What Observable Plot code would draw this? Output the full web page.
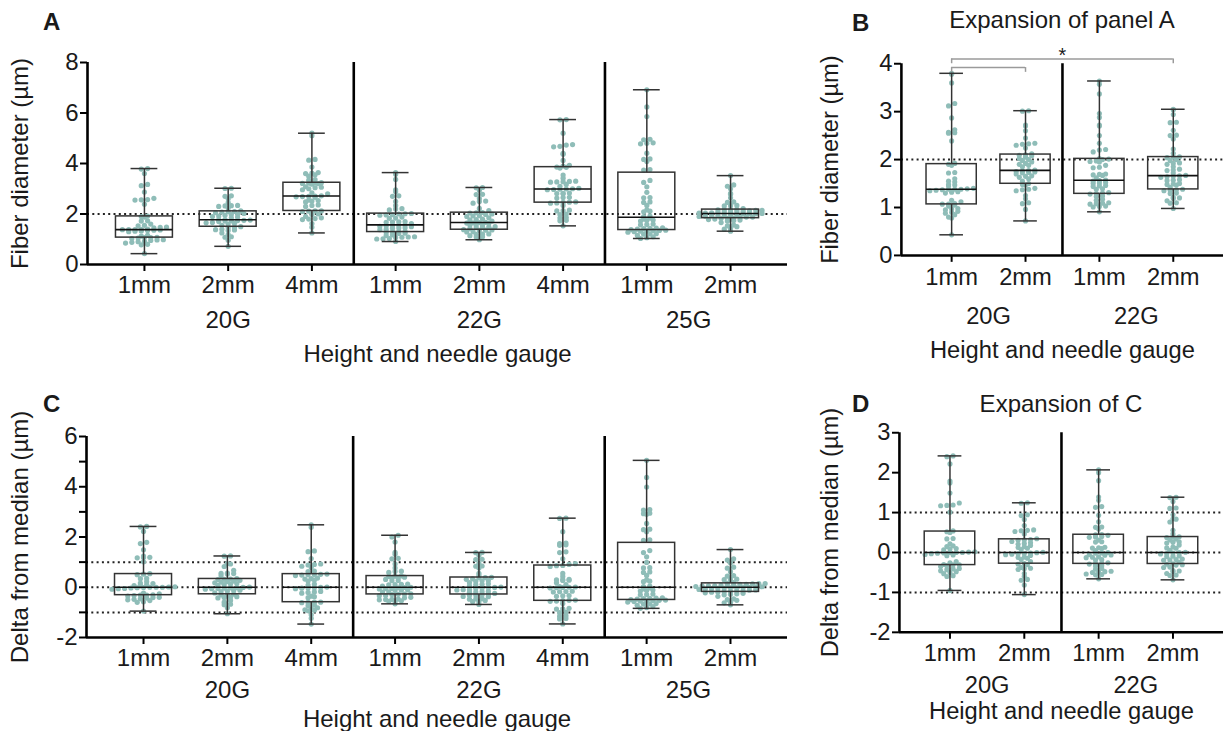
<!DOCTYPE html>
<html><head><meta charset="utf-8">
<script src="https://cdn.jsdelivr.net/npm/d3@7"></script>
<script src="https://cdn.jsdelivr.net/npm/@observablehq/plot@0.6"></script>
<style>
body{margin:0;background:#fff;}
#wrap{position:relative;width:1225px;height:731px;overflow:hidden;background:#fff;font-family:"Liberation Sans",Arial,sans-serif;color:#1a1a1a;}
.panel{position:absolute;}
.lbl{position:absolute;line-height:1;white-space:nowrap;}
</style></head><body><div id="wrap"></div>
<script>
// ---------- data (fiber diameter, µm) ----------
const gauges  = ["20G","20G","20G","22G","22G","22G","25G","25G"];
const heights = ["1mm","2mm","4mm","1mm","2mm","4mm","1mm","2mm"];
const expandedGroups = ["20G 1mm","20G 2mm","22G 1mm","22G 2mm"];

const g20_1mm = [3.80,3.78,3.60,3.17,3.12,2.87,2.62,2.57,2.56,2.55,2.39,1.92,1.90,1.88,1.73,1.72,1.60,1.55,1.53,1.48,1.47,1.45,1.40,1.39,1.38,1.38,1.37,1.38,1.36,1.35,1.33,1.32,1.30,1.15,1.12,1.08,1.07,1.05,1.03,1.07,0.98,0.97,0.95,0.92,0.90,0.88,0.85,0.80,0.78,0.43];
const g20_2mm = [3.02,3.01,2.72,2.70,2.60,2.45,2.34,2.33,2.32,2.30,2.24,2.12,2.10,2.09,2.08,2.05,2.02,2.00,1.98,1.95,1.92,1.90,1.88,1.85,1.74,1.73,1.78,1.77,1.76,1.75,1.72,1.70,1.66,1.65,1.63,1.60,1.55,1.50,1.48,1.47,1.40,1.38,1.37,1.35,1.25,1.18,1.10,1.08,0.96,0.72];
const g20_4mm = [5.20,5.10,4.16,4.13,3.86,3.64,3.62,3.60,3.55,3.50,3.36,3.34,3.24,3.23,3.22,3.21,3.20,3.18,3.08,3.06,3.04,3.00,2.96,2.69,2.68,2.84,2.80,2.72,2.71,2.70,2.66,2.55,2.53,2.51,2.48,2.36,2.34,2.30,2.12,2.11,2.12,2.10,2.00,1.98,1.90,1.85,1.82,1.80,1.78,1.62,1.48,1.25];
const g22_1mm = [3.64,3.57,3.37,2.96,2.88,2.72,2.70,2.50,2.34,2.21,2.20,2.16,2.02,2.01,2.00,1.97,1.96,1.95,1.88,1.84,1.83,1.70,1.69,1.68,1.67,1.62,1.57,1.56,1.55,1.52,1.51,1.50,1.46,1.45,1.44,1.39,1.38,1.31,1.30,1.29,1.28,1.24,1.23,1.17,1.15,1.10,1.09,1.08,1.07,1.03,1.02,1.01,0.91];
const g22_2mm = [3.05,3.04,2.94,2.78,2.77,2.61,2.51,2.50,2.43,2.22,2.13,2.06,2.05,2.04,2.00,1.98,1.93,1.92,1.90,1.85,1.80,1.78,1.77,1.72,1.67,1.66,1.65,1.64,1.63,1.58,1.57,1.56,1.50,1.49,1.48,1.47,1.42,1.38,1.37,1.36,1.35,1.30,1.29,1.21,1.20,1.19,1.14,1.10,1.09,0.98];
const g22_4mm = [5.74,5.73,5.20,4.75,4.73,4.68,4.66,4.40,4.37,4.12,3.93,3.90,3.86,3.85,3.82,3.54,3.42,3.30,3.29,3.28,3.27,3.26,3.17,3.10,3.02,3.00,2.99,2.98,2.97,2.96,2.83,2.82,2.81,2.80,2.66,2.65,2.63,2.48,2.47,2.46,2.44,2.43,2.34,2.15,2.13,2.12,2.00,1.98,1.86,1.84,1.75,1.73,1.53];
const g25_1mm = [6.92,6.24,5.86,4.96,4.94,4.82,4.80,4.78,4.41,4.18,4.16,4.08,3.76,3.74,3.33,3.25,3.08,2.86,2.65,2.64,2.48,2.46,2.34,2.16,2.11,2.09,1.92,1.90,1.84,1.80,1.76,1.74,1.72,1.60,1.58,1.57,1.45,1.44,1.43,1.42,1.40,1.38,1.36,1.35,1.34,1.33,1.32,1.30,1.28,1.22,1.21,1.20,1.15,1.10,1.06,1.03];
const g25_2mm = [3.52,3.15,3.10,3.00,2.82,2.78,2.64,2.48,2.46,2.34,2.33,2.32,2.21,2.18,2.17,2.17,2.16,2.14,2.14,2.12,2.11,2.10,2.08,2.08,2.07,2.05,2.04,2.04,2.02,2.01,2.00,2.00,1.98,1.97,1.96,1.94,1.93,1.91,1.90,1.88,1.88,1.86,1.84,1.83,1.82,1.80,1.78,1.76,1.74,1.72,1.66,1.56,1.53,1.50,1.42,1.40,1.32];
const fiberSeries = [g20_1mm,g20_2mm,g20_4mm,g22_1mm,g22_2mm,g22_4mm,g25_1mm,g25_2mm];

// significance brackets in panel B
const comparisons = [
  {from:"20G 1mm", to:"20G 2mm", y:3.92, label:""},
  {from:"20G 1mm", to:"22G 2mm", y:4.10, label:"*"}
];

// ---------- helpers ----------
function q6(s, p){ // Prism-style quantile ((n+1)p)
  const n = s.length, h = (n + 1) * p;
  if (h <= 1) return s[0];
  if (h >= n) return s[n-1];
  const lo = Math.floor(h);
  return s[lo-1] + (h - lo) * (s[lo] - s[lo-1]);
}
const median = v => q6(v.slice().sort(d3.ascending), 0.5);

const groupsA = fiberSeries.map((values, k) => ({gauge: gauges[k], height: heights[k], key: gauges[k] + " " + heights[k], values}));
const groupsC = groupsA.map(g => { const m = median(g.values); return {...g, values: g.values.map(v => +(v - m).toFixed(4))}; });
const pick = gs => expandedGroups.map(k => gs.find(g => g.key === k));

function swarm(options, sp = 6.3, rowH = 3.3){
  return Plot.initializer(options, (data, facets, channels, scales) => {
    const X = channels.x.value, Y = channels.y.value;
    const PX = new Float64Array(X.length);
    for (const index of facets){
      const rows = d3.group(Array.from(index), i => X[i] + "|" + Math.round(scales.y(Y[i]) / rowH));
      for (const row of rows.values()){
        row.sort((a, b) => Y[a] - Y[b]);
        row.forEach((i, j) => { PX[i] = scales.x(X[i]) + (j - (row.length - 1) / 2) * sp; });
      }
    }
    return {data, facets, channels: {x: {value: PX}}};
  });
}

const INK = "#1a1a1a", DOT = "#8fbdb8";
const T = {fontSize: 24, fill: INK, textAnchor: "middle", lineAnchor: "middle"};
function panel(cfg){
  const {groups, yDomain, yTicks, minorTicks = [], refLines, ylabel, xlabel = "Height and needle gauge",
         width, height, mt, mb, ml, mr, tickPad, gaugeDy, xlabelDy, ylabelDx, extra = () => []} = cfg;
  const n = groups.length, pad = 0.68, bh = 0.34, ch = 0.16;
  const idx = new Map(groups.map((g, i) => [g.key, i]));
  const stats = groups.map((g, i) => {
    const s = g.values.slice().sort(d3.ascending);
    return {i, min: s[0], q1: q6(s, .25), med: q6(s, .5), q3: q6(s, .75), max: s[s.length-1]};
  });
  const pts = groups.flatMap((g, i) => g.values.map(v => ({i, v})));
  const gaugeRows = Array.from(d3.group(groups.map((g, i) => ({gauge: g.gauge, i})), d => d.gauge),
    ([gauge, m]) => ({gauge, x: d3.mean(m, d => d.i), first: m[0].i}));
  const seps = gaugeRows.slice(1).map(g => g.first - 0.5);
  const line = {stroke: "#333", strokeWidth: 1.5};
  return Plot.plot({
    width, height, marginTop: mt, marginBottom: mb, marginLeft: ml, marginRight: mr,
    x: {domain: [-pad, n - 1 + pad]},
    y: {domain: yDomain},
    style: {fontFamily: '"Liberation Sans", Arial, sans-serif', fontSize: "24px", color: INK, background: "transparent", overflow: "visible"},
    marks: [
      Plot.ruleY(refLines, {stroke: "#222", strokeWidth: 2, strokeDasharray: "2,3.3"}),
      Plot.dot(pts, swarm({x: "i", y: "v", r: 2.6, fill: DOT, stroke: "none"})),
      Plot.ruleX(stats, {x: "i", y1: "min", y2: "q1", ...line}),
      Plot.ruleX(stats, {x: "i", y1: "q3", y2: "max", ...line}),
      Plot.rect(stats, {x1: d => d.i - bh, x2: d => d.i + bh, y1: "q1", y2: "q3", fill: "none", ...line}),
      Plot.ruleY(stats, {x1: d => d.i - bh, x2: d => d.i + bh, y: "med", stroke: "#111", strokeWidth: 1.6}),
      Plot.ruleY(stats, {x1: d => d.i - ch, x2: d => d.i + ch, y: "max", ...line}),
      Plot.ruleY(stats, {x1: d => d.i - ch, x2: d => d.i + ch, y: "min", ...line}),
      ...extra(idx),
      Plot.ruleX(seps, {stroke: "#000", strokeWidth: 2.6}),
      Plot.ruleX([-pad], {stroke: "#000", strokeWidth: 2.6}),
      Plot.ruleY([yDomain[0]], {stroke: "#000", strokeWidth: 2.6}),
      Plot.axisY({ticks: yTicks, tickFormat: d => String(d), tickSize: 7, tickPadding: 2, fontSize: 24, strokeWidth: 2, stroke: "#000", fill: INK, label: null}),
      ...(minorTicks.length ? [Plot.axisY({ticks: minorTicks, tickFormat: () => "", tickSize: 7, strokeWidth: 2, stroke: "#000", label: null})] : []),
      Plot.axisX({ticks: d3.range(n), tickFormat: i => groups[i].height, tickSize: 7, tickPadding: tickPad, fontSize: 24, strokeWidth: 2, stroke: "#000", fill: INK, label: null}),
      Plot.text(gaugeRows, {x: "x", text: "gauge", frameAnchor: "bottom", dy: gaugeDy, ...T}),
      Plot.text([xlabel], {text: d => d, frameAnchor: "bottom", dy: xlabelDy, ...T}),
      Plot.text([ylabel], {text: d => d, frameAnchor: "left", rotate: -90, dx: ylabelDx, ...T})
    ]
  });
}

const wrap = document.getElementById("wrap");
function place(svg, left, top){
  const d = document.createElement("div");
  d.className = "panel"; d.style.left = left + "px"; d.style.top = top + "px";
  d.appendChild(svg); wrap.appendChild(d);
}
function label(text, x, baseline, {size = 24, bold = false, anchor = "start"} = {}){
  const s = document.createElement("span");
  s.className = "lbl"; s.textContent = text;
  s.style.fontSize = size + "px"; s.style.fontWeight = bold ? "bold" : "normal";
  s.style.left = x + "px"; s.style.top = (baseline - 0.8465 * size) + "px";
  if (anchor === "middle") s.style.transform = "translateX(-50%)";
  wrap.appendChild(s);
}

const bracketMarks = idx => {
  const c = comparisons.map(d => ({...d, a: idx.get(d.from), b: idx.get(d.to)}));
  const ends = c.flatMap(d => [{x: d.a, y: d.y}, {x: d.b, y: d.y}]);
  return [
    Plot.ruleY(c, {x1: "a", x2: "b", y: "y", stroke: "#9a9a9a", strokeWidth: 1.5}),
    Plot.ruleX(ends, {x: "x", y1: "y", y2: d => d.y - 0.1, stroke: "#9a9a9a", strokeWidth: 1.5}),
    Plot.text(c, {x: d => (d.a + d.b) / 2, y: "y", text: "label", dy: -3, fontSize: 20, fill: INK})
  ];
};

place(panel({groups: groupsA, yDomain: [0, 8], yTicks: [0,2,4,6,8], refLines: [2], ylabel: "Fiber diameter (µm)",
  width: 800, height: 370, mt: 62, mb: 106, ml: 87, mr: 13, tickPad: 4, gaugeDy: 56, xlabelDy: 90, ylabelDx: -67}), 0, 0);
place(panel({groups: pick(groupsA), yDomain: [0, 4], yTicks: [0,1,2,3,4], refLines: [2], ylabel: "Fiber diameter (µm)",
  width: 420, height: 370, mt: 64, mb: 112, ml: 92, mr: 2, tickPad: 6, gaugeDy: 62, xlabelDy: 96, ylabelDx: -72, extra: bracketMarks}), 810, 0);
place(panel({groups: groupsC, yDomain: [-2, 6], yTicks: [-2,0,2,4,6], minorTicks: [-1,1,3,5], refLines: [-1,0,1], ylabel: "Delta from median (µm)",
  width: 800, height: 361, mt: 66, mb: 94, ml: 86, mr: 13, tickPad: 4, gaugeDy: 53, xlabelDy: 82, ylabelDx: -66}), 0, 370);
place(panel({groups: pick(groupsC), yDomain: [-2, 3], yTicks: [-2,-1,0,1,2,3], refLines: [-1,0,1], ylabel: "Delta from median (µm)",
  width: 420, height: 361, mt: 63, mb: 96, ml: 90, mr: 2, tickPad: 5, gaugeDy: 54, xlabelDy: 80, ylabelDx: -70}), 810, 370);

label("A", 43, 30, {bold: true});
label("B", 852, 31, {bold: true});
label("C", 43, 412, {bold: true});
label("D", 852, 412, {bold: true});
label("Expansion of panel A", 1062, 28, {anchor: "middle"});
label("Expansion of C", 1061, 412, {anchor: "middle"});
</script></body></html>
